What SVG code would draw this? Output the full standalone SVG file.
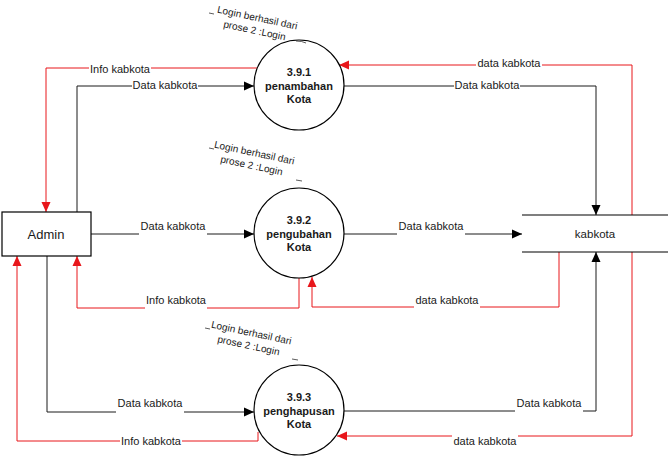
<svg xmlns="http://www.w3.org/2000/svg" width="670" height="458" viewBox="0 0 670 458">
<style>
text{font-family:"Liberation Sans",Arial,sans-serif;fill:#1a1a1a}
.lbl{font-size:11px;text-anchor:middle;dominant-baseline:central}
.node{font-size:11px;font-weight:bold;text-anchor:middle}
.note{font-size:10px;text-anchor:middle}
.blk{fill:none;stroke:#1a1a1a;stroke-width:1}
.red{fill:none;stroke:#e8161b;stroke-width:1}
.bg{fill:#fff}
.tick{stroke:#333;stroke-width:0.8;fill:none}
circle{fill:#fff;stroke:#000;stroke-width:1.2}
</style>
<defs>
<marker id="ab" viewBox="0 0 10 10" refX="10" refY="5" markerWidth="10" markerHeight="10" markerUnits="userSpaceOnUse" orient="auto"><path d="M0,0.5 L10,5 L0,9.5z" fill="#000"/></marker>
<marker id="ar" viewBox="0 0 10 10" refX="10" refY="5" markerWidth="10" markerHeight="10" markerUnits="userSpaceOnUse" orient="auto"><path d="M0,0.5 L10,5 L0,9.5z" fill="#e8161b"/></marker>
</defs>
<rect width="670" height="458" fill="#fff"/>
<g id="connectors">
<path class="red" d="M257,68 H46 V212" marker-end="url(#ar)"/>
<path class="blk" d="M77,212 V86 H254" marker-end="url(#ab)"/>
<path class="blk" d="M91,234 H254" marker-end="url(#ab)"/>
<path class="red" d="M299,278 V308 H77 V256" marker-end="url(#ar)"/>
<path class="blk" d="M47,256 V412 H254" marker-end="url(#ab)"/>
<path class="red" d="M258,432 V441 H17 V256" marker-end="url(#ar)"/>
<path class="blk" d="M344,86 H596 V215" marker-end="url(#ab)"/>
<path class="red" d="M632,215 V65 H339" marker-end="url(#ar)"/>
<path class="blk" d="M344,234 H522" marker-end="url(#ab)"/>
<path class="red" d="M559,252 V307 H312 V277" marker-end="url(#ar)"/>
<path class="blk" d="M344,411 H596 V252" marker-end="url(#ab)"/>
<path class="red" d="M632,252 V436 H337" marker-end="url(#ar)"/>
<rect class="bg" x="89" y="62" width="62" height="13"/><text class="lbl" x="120" y="69">Info kabkota</text>
<rect class="bg" x="132" y="79" width="66" height="13"/><text class="lbl" x="165" y="85">Data kabkota</text>
<rect class="bg" x="476" y="58" width="66" height="13"/><text class="lbl" x="509" y="63">data kabkota</text>
<rect class="bg" x="454" y="79" width="66" height="13"/><text class="lbl" x="487" y="85">Data kabkota</text>
<rect class="bg" x="139" y="220" width="68" height="16"/><text class="lbl" x="173" y="226">Data kabkota</text>
<rect class="bg" x="397" y="220" width="68" height="16"/><text class="lbl" x="431" y="226">Data kabkota</text>
<rect class="bg" x="145" y="294" width="62" height="16"/><text class="lbl" x="176" y="300">Info kabkota</text>
<rect class="bg" x="414" y="294" width="66" height="16"/><text class="lbl" x="447" y="300">data kabkota</text>
<rect class="bg" x="116" y="397" width="68" height="17"/><text class="lbl" x="150" y="403">Data kabkota</text>
<rect class="bg" x="515" y="397" width="68" height="17"/><text class="lbl" x="549" y="403">Data kabkota</text>
<rect class="bg" x="120" y="435" width="62" height="13"/><text class="lbl" x="151" y="441">Info kabkota</text>
<rect class="bg" x="452" y="434" width="66" height="14"/><text class="lbl" x="485" y="441">data kabkota</text>
</g>
<g id="admin">
<rect x="2" y="212" width="89" height="44" fill="#fff" stroke="#000" stroke-width="1.2"/>
<text x="46" y="239" font-size="13" text-anchor="middle">Admin</text>
</g>
<g id="kabkota">
<path d="M522,215 H668 M522,252 H668" stroke="#000" stroke-width="1.2"/>
<text x="595" y="238" font-size="11.5" text-anchor="middle">kabkota</text>
</g>
<g id="p391">
<circle cx="299" cy="85" r="45"/>
<text class="node" x="299" y="76">3.9.1</text>
<text class="node" x="299" y="90">penambahan</text>
<text class="node" x="299" y="103">Kota</text>
</g>
<g id="p392">
<circle cx="299" cy="233" r="45"/>
<text class="node" x="299" y="224">3.9.2</text>
<text class="node" x="299" y="238">pengubahan</text>
<text class="node" x="299" y="251">Kota</text>
</g>
<g id="p393">
<circle cx="299" cy="410" r="45"/>
<text class="node" x="299" y="401">3.9.3</text>
<text class="node" x="299" y="415">penghapusan</text>
<text class="node" x="299" y="428">Kota</text>
</g>
<g id="note1">
<text class="note" transform="rotate(12 256 24)" x="256" y="21">Login berhasil dari</text>
<text class="note" transform="rotate(12 256 24)" x="256" y="34">prose 2 :Login</text>
<path class="tick" d="M209,13 l5,1 M296,41 q6,0 10,2"/>
</g>
<g id="note2">
<text class="note" transform="rotate(12 253 159)" x="253" y="156">Login berhasil dari</text>
<text class="note" transform="rotate(12 253 159)" x="253" y="169">prose 2 :Login</text>
<path class="tick" d="M209,148 l5,1 M296,180 l6,1"/>
</g>
<g id="note3">
<text class="note" transform="rotate(12 250 339)" x="250" y="336">Login berhasil dari</text>
<text class="note" transform="rotate(12 250 339)" x="250" y="349">prose 2 :Login</text>
<path class="tick" d="M205,328 l5,1 M292,359 l6,1"/>
</g>
</svg>
